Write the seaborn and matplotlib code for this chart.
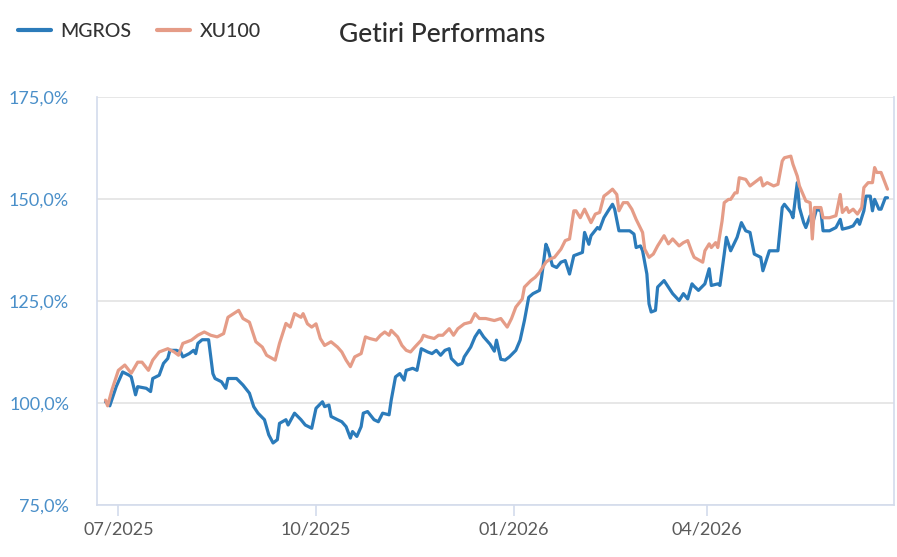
import pandas as pd
import matplotlib.pyplot as plt
import matplotlib.dates as mdates
from matplotlib.ticker import FuncFormatter
import seaborn as sns

# Values (percent of start)
xu_dates = ["2025-06-25","2025-06-26","2025-06-28","2025-07-01","2025-07-04","2025-07-07","2025-07-10","2025-07-12","2025-07-15","2025-07-17",
            "2025-07-20","2025-07-24","2025-07-27","2025-07-29","2025-07-31","2025-08-04","2025-08-07","2025-08-10","2025-08-13","2025-08-16",
            "2025-08-19","2025-08-21","2025-08-26","2025-08-28","2025-08-31","2025-09-03","2025-09-06","2025-09-08","2025-09-12","2025-09-14",
            "2025-09-17","2025-09-19","2025-09-21","2025-09-24","2025-09-25","2025-09-27","2025-09-29","2025-10-01","2025-10-03","2025-10-05",
            "2025-10-08","2025-10-11","2025-10-13","2025-10-15","2025-10-17","2025-10-19","2025-10-22","2025-10-24","2025-10-26","2025-10-29",
            "2025-10-31","2025-11-02","2025-11-04","2025-11-05","2025-11-08","2025-11-10","2025-11-12","2025-11-14","2025-11-16","2025-11-19",
            "2025-11-20","2025-11-22","2025-11-25","2025-11-27","2025-11-29","2025-12-02","2025-12-04","2025-12-06","2025-12-09","2025-12-12",
            "2025-12-14","2025-12-16","2025-12-19","2025-12-23","2025-12-26","2025-12-29","2025-12-31","2026-01-02","2026-01-05","2026-01-06",
            "2026-01-09","2026-01-11","2026-01-13","2026-01-16","2026-01-18","2026-01-20","2026-01-23","2026-01-25","2026-01-27","2026-01-29",
            "2026-01-30","2026-02-01","2026-02-03","2026-02-06","2026-02-08","2026-02-10","2026-02-12","2026-02-14","2026-02-16","2026-02-18",
            "2026-02-19","2026-02-21","2026-02-23","2026-02-25","2026-02-27","2026-03-02","2026-03-03","2026-03-05","2026-03-07","2026-03-09",
            "2026-03-12","2026-03-14","2026-03-16","2026-03-19","2026-03-21","2026-03-23","2026-03-25","2026-03-26","2026-03-30","2026-03-31",
            "2026-04-02","2026-04-03","2026-04-05","2026-04-06","2026-04-08","2026-04-09","2026-04-11","2026-04-12","2026-04-14","2026-04-15",
            "2026-04-16","2026-04-19","2026-04-21","2026-04-23","2026-04-26","2026-04-27","2026-04-29","2026-05-02","2026-05-04","2026-05-06",
            "2026-05-07","2026-05-10","2026-05-11","2026-05-13","2026-05-14","2026-05-16","2026-05-17","2026-05-19","2026-05-20","2026-05-21",
            "2026-05-24","2026-05-25","2026-05-28","2026-05-31","2026-06-02","2026-06-03","2026-06-05","2026-06-06","2026-06-08","2026-06-10",
            "2026-06-12","2026-06-13","2026-06-15","2026-06-17","2026-06-18","2026-06-19","2026-06-21","2026-06-24"]
xu_vals = [100.7, 99.3, 103.2, 108.0, 109.3, 107.3, 110.0, 110.0, 108.0, 110.5,
           112.5, 113.3, 112.5, 111.7, 114.6, 115.4, 116.6, 117.4, 116.6, 116.2,
           117.0, 121.0, 122.7, 120.7, 119.8, 115.0, 113.7, 111.7, 110.5, 114.6,
           119.5, 118.6, 121.9, 121.0, 121.9, 119.4, 118.6, 119.4, 115.8, 114.1,
           115.0, 113.7, 112.5, 110.5, 108.9, 111.3, 112.1, 116.2, 115.8, 115.4,
           116.6, 117.4, 116.6, 117.8, 116.2, 114.1, 112.9, 112.5, 113.7, 115.4,
           116.6, 116.2, 115.8, 116.6, 116.6, 118.2, 116.6, 118.2, 119.4, 119.8,
           121.9, 120.7, 120.7, 120.2, 120.7, 118.6, 120.7, 123.5, 125.5, 128.4,
           130.0, 130.8, 132.0, 134.5, 135.3, 135.7, 137.7, 139.8, 140.2, 147.1,
           147.1, 145.4, 147.5, 144.2, 146.3, 146.7, 150.7, 151.5, 152.4, 151.1,
           147.1, 149.1, 149.1, 147.5, 145.0, 141.8, 137.7, 135.7, 136.5, 138.5,
           141.0, 139.0, 140.2, 138.5, 139.3, 139.8, 136.9, 135.7, 134.5, 137.3,
           139.0, 138.1, 139.3, 138.1, 144.6, 149.1, 149.9, 149.9, 151.5, 151.5,
           155.2, 154.8, 153.2, 154.0, 155.2, 153.2, 154.0, 153.2, 153.6, 159.3,
           160.1, 160.5, 158.5, 155.6, 153.2, 150.7, 149.5, 149.1, 140.2, 147.9,
           147.9, 145.4, 145.4, 145.9, 151.1, 146.7, 147.9, 146.7, 147.5, 146.3,
           147.9, 152.8, 154.0, 154.0, 157.7, 156.5, 156.5, 152.4]

mg_dates = ["2025-06-25","2025-06-27","2025-06-30","2025-07-03","2025-07-06","2025-07-07","2025-07-09","2025-07-10","2025-07-14","2025-07-16",
            "2025-07-17","2025-07-20","2025-07-22","2025-07-24","2025-07-25","2025-07-28","2025-07-30","2025-07-31","2025-08-03","2025-08-05",
            "2025-08-06","2025-08-07","2025-08-09","2025-08-12","2025-08-14","2025-08-15","2025-08-18","2025-08-20","2025-08-21","2025-08-25",
            "2025-08-28","2025-08-31","2025-09-02","2025-09-04","2025-09-07","2025-09-09","2025-09-11","2025-09-13","2025-09-14","2025-09-17",
            "2025-09-18","2025-09-21","2025-09-24","2025-09-26","2025-09-29","2025-10-01","2025-10-04","2025-10-05","2025-10-07","2025-10-08",
            "2025-10-11","2025-10-13","2025-10-15","2025-10-17","2025-10-18","2025-10-20","2025-10-22","2025-10-23","2025-10-25","2025-10-28",
            "2025-10-30","2025-11-01","2025-11-04","2025-11-05","2025-11-07","2025-11-09","2025-11-11","2025-11-12","2025-11-15","2025-11-17",
            "2025-11-19","2025-11-22","2025-11-24","2025-11-26","2025-11-28","2025-11-30","2025-12-02","2025-12-03","2025-12-06","2025-12-08",
            "2025-12-09","2025-12-12","2025-12-14","2025-12-16","2025-12-18","2025-12-21","2025-12-23","2025-12-24","2025-12-26","2025-12-28",
            "2025-12-30","2026-01-02","2026-01-04","2026-01-06","2026-01-08","2026-01-10","2026-01-13","2026-01-14","2026-01-16","2026-01-17",
            "2026-01-19","2026-01-21","2026-01-23","2026-01-25","2026-01-27","2026-01-29","2026-01-31","2026-02-02","2026-02-03","2026-02-05",
            "2026-02-06","2026-02-09","2026-02-10","2026-02-12","2026-02-14","2026-02-16","2026-02-17","2026-02-19","2026-02-21","2026-02-24",
            "2026-02-26","2026-02-27","2026-03-01","2026-03-02","2026-03-04","2026-03-05","2026-03-06","2026-03-08","2026-03-09","2026-03-12",
            "2026-03-14","2026-03-16","2026-03-19","2026-03-21","2026-03-23","2026-03-25","2026-03-26","2026-03-28","2026-03-31","2026-04-02",
            "2026-04-03","2026-04-06","2026-04-07","2026-04-09","2026-04-10","2026-04-12","2026-04-15","2026-04-17","2026-04-19","2026-04-21",
            "2026-04-23","2026-04-26","2026-04-27","2026-04-30","2026-05-03","2026-05-04","2026-05-06","2026-05-07","2026-05-10","2026-05-11",
            "2026-05-13","2026-05-14","2026-05-16","2026-05-17","2026-05-19","2026-05-20","2026-05-22","2026-05-24","2026-05-25","2026-05-28",
            "2026-05-31","2026-06-02","2026-06-03","2026-06-06","2026-06-08","2026-06-10","2026-06-11","2026-06-13","2026-06-14","2026-06-16",
            "2026-06-17","2026-06-18","2026-06-20","2026-06-21","2026-06-23","2026-06-24"]
mg_vals = [100.3, 99.3, 104.0, 107.6, 106.8, 106.4, 102.0, 104.0, 103.6, 102.8,
           106.0, 106.8, 109.7, 110.9, 112.9, 112.9, 112.5, 111.3, 112.1, 112.9,
           112.1, 114.6, 115.5, 115.5, 107.2, 106.0, 105.2, 103.6, 106.0, 106.0,
           104.4, 102.4, 99.1, 97.5, 95.9, 92.2, 90.2, 91.0, 95.0, 95.9,
           94.6, 97.5, 95.9, 94.6, 93.8, 98.7, 100.3, 99.1, 99.5, 96.7,
           95.9, 95.4, 94.2, 91.4, 93.0, 91.8, 94.2, 97.5, 97.9, 95.9,
           95.4, 97.5, 97.1, 100.7, 106.4, 107.2, 105.6, 108.0, 108.5, 108.0,
           113.3, 112.5, 112.1, 112.9, 111.7, 112.9, 113.3, 110.9, 109.3, 109.7,
           111.3, 113.7, 116.2, 117.8, 116.2, 114.4, 112.7, 115.4, 110.7, 110.5,
           111.3, 112.9, 115.4, 120.2, 125.9, 126.8, 127.6, 130.8, 138.9, 137.7,
           133.7, 133.2, 134.5, 134.9, 131.6, 136.1, 136.5, 136.9, 141.8, 138.9,
           141.0, 143.0, 142.6, 145.4, 147.1, 148.7, 147.5, 142.2, 142.2, 142.2,
           141.4, 138.1, 138.5, 137.3, 131.6, 124.3, 122.3, 122.7, 128.4, 130.0,
           128.4, 126.8, 125.1, 126.8, 125.5, 129.2, 128.6, 127.6, 129.2, 132.9,
           128.8, 129.2, 128.8, 136.5, 140.6, 137.3, 140.6, 144.2, 142.2, 141.8,
           136.5, 135.7, 132.4, 137.3, 137.3, 137.3, 147.9, 148.7, 146.7, 145.4,
           154.0, 147.9, 144.2, 143.0, 145.9, 143.8, 147.5, 147.1, 142.2, 142.2,
           143.0, 145.0, 142.6, 143.0, 143.4, 145.0, 143.8, 147.1, 150.7, 150.7,
           147.1, 149.9, 147.5, 147.5, 150.3, 150.3]

series_names = ["MGROS", "XU100"]
colors = {"MGROS": "#2b7bba", "XU100": "#e59c87"}

df = pd.concat([
    pd.DataFrame({"date": pd.to_datetime(mg_dates), "value": mg_vals, "series": "MGROS"}),
    pd.DataFrame({"date": pd.to_datetime(xu_dates), "value": xu_vals, "series": "XU100"}),
])

sns.set_theme(style="white")
plt.rcParams["font.family"] = ["Lato", "DejaVu Sans"]

fig = plt.figure(figsize=(8.97, 5.57), dpi=100)
ax = fig.add_axes([0.108, 0.0934, 0.8886, 0.7325])

sns.lineplot(data=df, x="date", y="value", hue="series", hue_order=series_names,
             palette=colors, linewidth=2.3, ax=ax, legend=False)

ax.set_ylim(75, 175)
ax.set_xlim(pd.Timestamp("2025-06-21"), pd.Timestamp("2026-06-27"))
ax.set_yticks([75, 100, 125, 150, 175])
ax.yaxis.set_major_formatter(FuncFormatter(lambda v, p: f"{v:.1f}%".replace(".", ",")))
ax.xaxis.set_major_locator(mdates.MonthLocator(bymonth=[1, 4, 7, 10]))
ax.xaxis.set_major_formatter(mdates.DateFormatter("%m/%Y"))
ax.set_xlabel("")
ax.set_ylabel("")

ax.grid(axis="y", color="#e3e3e3", linewidth=1.2)
ax.set_axisbelow(True)
for side in ["left", "bottom", "right"]:
    ax.spines[side].set_color("#d3dbec")
    ax.spines[side].set_linewidth(1.2)
ax.spines["top"].set_visible(False)

ax.tick_params(axis="y", length=0, pad=20, labelsize=13, labelcolor="#4a8fc9")
ax.tick_params(axis="x", length=8, width=1.2, color="#d3dbec", pad=4,
               labelsize=13, labelcolor="#5a5a5a", bottom=True)

# legend and title sit above the plot area, on one row
handles = [plt.Line2D([], [], color=colors[s], linewidth=3) for s in series_names]
fig.legend(handles, series_names, loc="center left", bbox_to_anchor=(0.02, 0.943),
           ncol=2, frameon=False, handlelength=1.7, handletextpad=0.5, columnspacing=1.3,
           borderpad=0, borderaxespad=0,
           prop={"size": 14, "weight": "medium"}, labelcolor="#333333")
fig.text(0.378, 0.938, "Getiri Performans", fontsize=19, fontweight="medium",
         color="#2e2e2e", va="center")

fig.savefig("out.png", dpi=100)
